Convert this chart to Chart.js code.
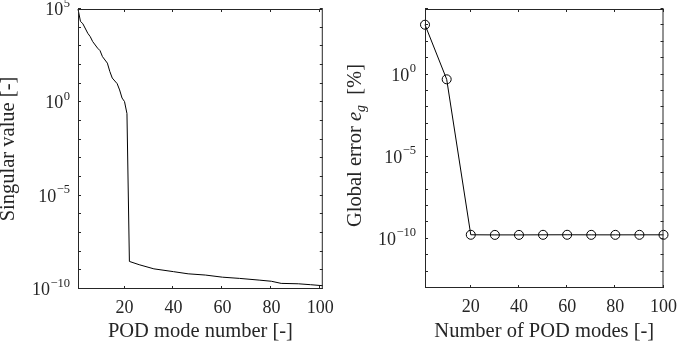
<!DOCTYPE html>
<html><head><meta charset="utf-8">
<script src="https://cdn.jsdelivr.net/npm/chart.js@4/dist/chart.umd.min.js"></script>
<style>
html,body{margin:0;padding:0;background:#fff;width:685px;height:342px;overflow:hidden}
.wrap{position:absolute;top:0;height:342px}
#w1{left:0;width:342px}
#w2{left:342px;width:343px}
canvas{display:block}
</style></head><body>
<div class="wrap" id="w1"><canvas id="c1" width="342" height="342"></canvas></div>
<div class="wrap" id="w2"><canvas id="c2" width="343" height="342"></canvas></div>
<script>
// ---- data ----
const svModes  = [1, 2, 3, 5, 6, 7, 9, 10, 11, 13, 14, 15, 17, 18, 19, 20, 21, 22, 26, 32, 40, 46, 53, 60, 67, 75, 80, 84, 91, 96, 101];
const svValues = [1e5, 2.2e4, 1.6e4, 5e3, 3.3e3, 1.8e3, 800, 590, 280, 126, 45, 20, 10, 4.6, 1.7, 1.1, 0.25,
                  3e-9, 2e-9, 1.2e-9, 8.5e-10, 6.5e-10, 5.6e-10, 4.3e-10, 3.7e-10, 3e-10, 2.6e-10, 2e-10, 1.9e-10, 1.7e-10, 1.5e-10];
const errModes  = [1, 10, 20, 30, 40, 50, 60, 70, 80, 90, 100];
const errValues = [1.1e3, 0.52, 1.75e-10, 1.72e-10, 1.72e-10, 1.74e-10, 1.75e-10, 1.73e-10, 1.73e-10, 1.74e-10, 1.74e-10];
const xTickValues = [20, 40, 60, 80, 100];
const leftMajorY  = [1e5, 1e0, 1e-5, 1e-10];
const rightMajorY = [1e0, 1e-5, 1e-10];
const leftXTitle  = 'POD mode number [-]';
const leftYTitle  = 'Singular value [-]';
const rightXTitle = 'Number of POD modes [-]';
const rightYTitleParts = [
  {t:'Global error ', it:false, sub:false},
  {t:'e', it:true, sub:false},
  {t:'g', it:true, sub:true},
  {t:'  [%]', it:false, sub:false}
];

const FONT = 'Liberation Serif';
const INK = '#262626';
const TITLE_SIZE = 20.5;

const matlabAxes = {
  id: 'matlabAxes',
  afterDraw(chart, args, o) {
    const {ctx, chartArea: a, scales: {x, y}} = chart;
    ctx.save();
    ctx.strokeStyle = INK; ctx.lineWidth = 1;
    ctx.strokeRect(a.left + 0.5, a.top + 0.5, a.right - a.left - 1, a.bottom - a.top - 1);
    const tl = 3;
    ctx.beginPath();
    for (const v of o.xTicks) {
      const px = Math.round(x.getPixelForValue(v)) - 0.5;
      ctx.moveTo(px, a.bottom); ctx.lineTo(px, a.bottom - tl);
      ctx.moveTo(px, a.top); ctx.lineTo(px, a.top + tl);
    }
    const e0 = Math.round(Math.log10(y.min)), e1 = Math.round(Math.log10(y.max));
    for (let e = e0; e <= e1; e++) {
      const py = Math.round(y.getPixelForValue(Math.pow(10, e))) - 0.5;
      ctx.moveTo(a.left, py); ctx.lineTo(a.left + tl, py);
      ctx.moveTo(a.right, py); ctx.lineTo(a.right - tl, py);
    }
    ctx.stroke();
    // y tick labels 10^n
    ctx.fillStyle = INK;
    ctx.textAlign = 'left'; ctx.textBaseline = 'alphabetic';
    for (const v of o.yMajor) {
      const py = y.getPixelForValue(v);
      const ex = Math.round(Math.log10(v));
      const exs = ex < 0 ? '\u2212' + (-ex) : String(ex);
      ctx.font = '18px "' + FONT + '"';
      const wb = ctx.measureText('10').width;
      ctx.font = '12.5px "' + FONT + '"';
      const we = ctx.measureText(exs).width;
      const xr = a.left - o.labelGap;
      const xs = xr - we - wb - 0.5;
      ctx.font = '18px "' + FONT + '"';
      ctx.fillText('10', xs, py + 6);
      ctx.font = '12.5px "' + FONT + '"';
      ctx.fillText(exs, xs + wb + 0.5, py - 2.5);
    }
    // custom rotated y title with italic/subscript
    if (o.yTitleParts) {
      ctx.save();
      ctx.translate(o.yTitleX, (a.top + a.bottom) / 2 + o.yTitleDy);
      ctx.rotate(-Math.PI / 2);
      const fnt = p => (p.it ? 'italic ' : '') + (p.sub ? '14px ' : TITLE_SIZE + 'px ') + '"' + FONT + '"';
      let total = 0;
      for (const p of o.yTitleParts) { ctx.font = fnt(p); total += ctx.measureText(p.t).width; }
      let cx = -total / 2;
      for (const p of o.yTitleParts) {
        ctx.font = fnt(p);
        ctx.fillText(p.t, cx, p.sub ? 4.5 : 0);
        cx += ctx.measureText(p.t).width;
      }
      ctx.restore();
    }
    ctx.restore();
  }
};

function makeChart(canvas, cfg) {
  const pts = cfg.xs.map((v, i) => ({x: v, y: cfg.ys[i]}));
  return new Chart(canvas, {
    type: 'line',
    data: {datasets: [{
      data: pts,
      borderColor: '#000', borderWidth: 1,
      pointRadius: cfg.markers ? 4.5 : 0,
      pointBorderColor: '#000', pointBackgroundColor: 'rgba(0,0,0,0)', pointBorderWidth: 1,
      tension: 0, clip: false, fill: false
    }]},
    options: {
      responsive: false, animation: false, devicePixelRatio: 1,
      events: [],
      layout: {padding: {left: 0, top: cfg.padTop, right: cfg.padRight, bottom: 0}},
      plugins: {
        legend: {display: false}, tooltip: {enabled: false},
        matlabAxes: {xTicks: xTickValues, yMajor: cfg.yMajor, labelGap: cfg.labelGap,
                     yTitleParts: cfg.yTitleParts, yTitleX: cfg.yTitleX, yTitleDy: cfg.yTitleDy || 0}
      },
      scales: {
        x: {
          type: 'linear', min: cfg.xmin, max: cfg.xmax,
          grid: {display: false, drawTicks: false}, border: {display: false},
          afterBuildTicks: s => { s.ticks = xTickValues.map(v => ({value: v})); },
          afterFit: s => { s.height = cfg.xAxisH; },
          ticks: {autoSkip: false, maxRotation: 0, padding: 8, color: INK,
                  font: {family: FONT, size: 18, lineHeight: 1.2}},
          title: {display: true, text: cfg.xTitle, color: INK, padding: {top: 0, bottom: 0},
                  font: {family: FONT, size: TITLE_SIZE, lineHeight: 1}}
        },
        y: {
          type: 'logarithmic', min: cfg.ymin, max: cfg.ymax,
          grid: {display: false, drawTicks: false}, border: {display: false},
          ticks: {display: false},
          afterFit: s => { s.width = cfg.yAxisW; },
          title: {display: !!cfg.yTitle, text: cfg.yTitle || '', color: INK, padding: {top: 0, bottom: 0},
                  font: {family: FONT, size: TITLE_SIZE, lineHeight: 0.8}}
        }
      }
    },
    plugins: [matlabAxes]
  });
}

makeChart(document.getElementById('c1'), {
  xs: svModes, ys: svValues, markers: false,
  xmin: 1, xmax: 101, ymin: 1e-10, ymax: 1e5,
  padTop: 9, padRight: 16, xAxisH: 53, yAxisW: 78,
  yMajor: leftMajorY, labelGap: 8,
  xTitle: leftXTitle, yTitle: leftYTitle
});

makeChart(document.getElementById('c2'), {
  xs: errModes, ys: errValues, markers: true,
  xmin: 1, xmax: 100, ymin: 1e-13, ymax: 1e4,
  padTop: 9, padRight: 12, xAxisH: 54, yAxisW: 83,
  yMajor: rightMajorY, labelGap: 9,
  xTitle: rightXTitle, yTitle: null,
  yTitleParts: rightYTitleParts, yTitleX: 18.5, yTitleDy: -3
});
</script>
</body></html>
